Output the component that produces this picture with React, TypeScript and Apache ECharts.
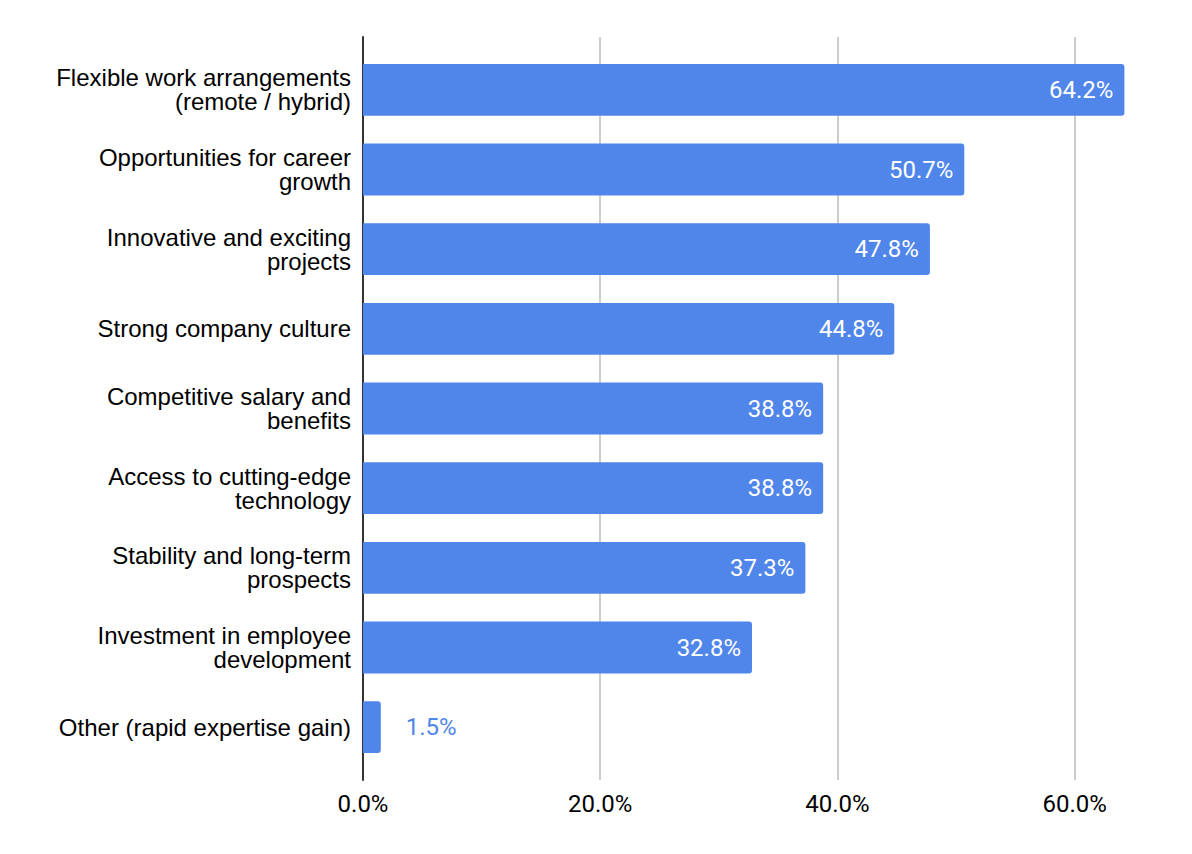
import React, { useEffect, useRef } from "react";
import * as echarts from "echarts";

const categories = [
  "Flexible work arrangements\n(remote / hybrid)",
  "Opportunities for career\ngrowth",
  "Innovative and exciting\nprojects",
  "Strong company culture",
  "Competitive salary and\nbenefits",
  "Access to cutting-edge\ntechnology",
  "Stability and long-term\nprospects",
  "Investment in employee\ndevelopment",
  "Other (rapid expertise gain)",
];
const values = [64.2, 50.7, 47.8, 44.8, 38.8, 38.8, 37.3, 32.8, 1.5];
const BLUE = "#5086ea";
const AXIS_MAX = 65;
const PX_PER_PCT = 11.86;

export default function App() {
  const ref = useRef<HTMLDivElement>(null);
  useEffect(() => {
    if (!ref.current) return;
    const chart = echarts.init(ref.current, null, { renderer: "svg" });
    const plotWidth = AXIS_MAX * PX_PER_PCT;
    chart.setOption({
      animation: false,
      backgroundColor: "#ffffff",
      grid: [
        { left: 363, top: 50, width: plotWidth, height: 717, containLabel: false },
        { left: 363, top: 37, width: plotWidth, height: 743, containLabel: false },
      ],
      xAxis: [
        {
          gridIndex: 0,
          type: "value",
          min: 0,
          max: AXIS_MAX,
          interval: 20,
          axisLine: { show: false },
          axisTick: { show: false },
          splitLine: { show: false },
          axisLabel: { show: false },
        },
        {
          gridIndex: 1,
          type: "value",
          min: 0,
          max: AXIS_MAX,
          interval: 20,
          axisLine: { show: false },
          axisTick: { show: false },
          splitLine: { show: true, showMaxLine: false, lineStyle: { color: "#cccccc", width: 2 } },
          axisLabel: {
            showMaxLabel: false,
            margin: 12,
            fontFamily: "Roboto",
            fontSize: 24,
            color: "#000000",
            formatter: (v: number) => v.toFixed(1) + "%",
          },
        },
      ],
      yAxis: [
        {
          gridIndex: 0,
          type: "category",
          inverse: true,
          data: categories,
          axisLine: { show: false },
          axisTick: { show: false },
          axisLabel: {
            margin: 12,
            fontFamily: "Liberation Sans, Arial",
            fontSize: 24,
            lineHeight: 24,
            color: "#000000",
            align: "right",
          },
        },
        {
          gridIndex: 1,
          type: "category",
          inverse: true,
          data: categories,
          axisLine: { show: true, lineStyle: { color: "#333333", width: 2 } },
          axisTick: { show: false },
          axisLabel: { show: false },
        },
      ],
      series: [
        {
          type: "bar",
          xAxisIndex: 0,
          yAxisIndex: 0,
          data: values.map((v) => ({
            value: v,
            label:
              v < 10
                ? { position: "right", distance: 25, color: BLUE }
                : { position: "insideRight", distance: 11, color: "#ffffff" },
          })),
          barCategoryGap: "35%",
          itemStyle: { color: BLUE, borderRadius: [0, 3, 3, 0] },
          label: {
            show: true,
            fontFamily: "Roboto",
            fontSize: 24,
            formatter: (p: any) => p.value.toFixed(1) + "%",
          },
        },
      ],
    });
    return () => chart.dispose();
  }, []);
  return (
    <div
      ref={ref}
      style={{ position: "fixed", left: 0, top: 0, width: 1192, height: 854, background: "#fff" }}
    />
  );
}
